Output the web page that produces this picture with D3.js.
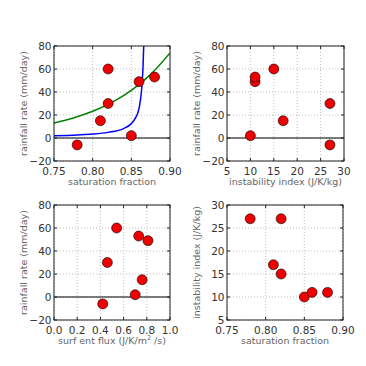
<!DOCTYPE html>
<html><head><meta charset="utf-8">
<script src="https://cdn.jsdelivr.net/npm/d3@7"></script>
<style>body{margin:0;background:#fff}svg{display:block}</style>
</head><body>
<script>
// Data
const saturation  = [0.78, 0.81, 0.82, 0.82, 0.85, 0.86, 0.88];
const rainfall    = [-6, 15, 60, 30, 2, 49, 53];
const instability = [27, 17, 15, 27, 10, 11, 11];
const surfFlux    = [0.42, 0.76, 0.54, 0.46, 0.70, 0.81, 0.73];

// Curves (panel 1)
const greenSat  = [0.75, 0.775, 0.80, 0.825, 0.85, 0.875, 0.90];
const greenRain = [13.0, 17.4, 23.2, 31.0, 41.4, 55.3, 74.0];
const blueSat   = [0.75, 0.78, 0.80, 0.82, 0.84, 0.85, 0.855, 0.86, 0.863, 0.865, 0.866, 0.8665];
const blueRain  = [2.0, 2.7, 3.4, 4.9, 8.2, 12.5, 17.0, 26.0, 40.0, 60.0, 79.0, 84.0];

const satTicks   = [0.75, 0.80, 0.85, 0.90];
const rainTicks  = [-20, 0, 20, 40, 60, 80];
const instTicks  = [5, 10, 15, 20, 25, 30];
const fluxTicks  = [0.0, 0.2, 0.4, 0.6, 0.8, 1.0];

const W = 366, H = 366;
const svg = d3.select("body").append("svg").attr("width", W).attr("height", H);
const fmtMinus = s => s.replace("-", "\u2212");

function panel(o) {
  const g = svg.append("g");
  const x = d3.scaleLinear().domain(o.xd).range([o.x0, o.x1]);
  const y = d3.scaleLinear().domain(o.yd).range([o.y1, o.y0]);
  const clipId = "clip" + Math.round(o.x0) + "_" + Math.round(o.y0);
  svg.append("clipPath").attr("id", clipId).append("rect")
    .attr("x", o.x0).attr("y", o.y0).attr("width", o.x1 - o.x0).attr("height", o.y1 - o.y0);

  // grid
  g.selectAll(".gx").data(o.xt).enter().append("line")
    .attr("x1", d => x(d)).attr("x2", d => x(d)).attr("y1", o.y0).attr("y2", o.y1)
    .attr("stroke", "#b0b0b0").attr("stroke-width", 0.8).attr("stroke-dasharray", "1,2");
  g.selectAll(".gy").data(o.yt).enter().append("line")
    .attr("y1", d => y(d)).attr("y2", d => y(d)).attr("x1", o.x0).attr("x2", o.x1)
    .attr("stroke", "#b0b0b0").attr("stroke-width", 0.8).attr("stroke-dasharray", "1,2");

  if (o.zero) {
    g.append("line").attr("x1", o.x0).attr("x2", o.x1).attr("y1", y(0)).attr("y2", y(0))
      .attr("stroke", "#000").attr("stroke-width", 1);
  }

  const cg = g.append("g").attr("clip-path", `url(#${clipId})`);
  (o.curves || []).forEach(c => {
    cg.append("path")
      .datum(c.xs.map((v, i) => [v, c.ys[i]]))
      .attr("fill", "none").attr("stroke", c.color).attr("stroke-width", 1.5)
      .attr("d", d3.line().x(d => x(d[0])).y(d => y(d[1])).curve(d3.curveMonotoneX));
  });

  // points
  g.selectAll(".pt").data(o.px.map((v, i) => [v, o.py[i]])).enter().append("circle")
    .attr("cx", d => x(d[0])).attr("cy", d => y(d[1])).attr("r", 5)
    .attr("fill", "#ee0000").attr("stroke", "#000").attr("stroke-width", 0.6);

  // frame
  g.append("rect").attr("x", o.x0).attr("y", o.y0).attr("width", o.x1 - o.x0).attr("height", o.y1 - o.y0)
    .attr("fill", "none").attr("stroke", "#222").attr("stroke-width", 1);

  // ticks (inward)
  const tl = 3;
  o.xt.forEach(t => {
    g.append("line").attr("x1", x(t)).attr("x2", x(t)).attr("y1", o.y1).attr("y2", o.y1 - tl).attr("stroke", "#222");
    g.append("line").attr("x1", x(t)).attr("x2", x(t)).attr("y1", o.y0).attr("y2", o.y0 + tl).attr("stroke", "#222");
  });
  o.yt.forEach(t => {
    g.append("line").attr("y1", y(t)).attr("y2", y(t)).attr("x1", o.x0).attr("x2", o.x0 + tl).attr("stroke", "#222");
    g.append("line").attr("y1", y(t)).attr("y2", y(t)).attr("x1", o.x1).attr("x2", o.x1 - tl).attr("stroke", "#222");
  });

  // tick labels
  g.selectAll(".xl").data(o.xt).enter().append("text")
    .attr("x", d => x(d)).attr("y", o.y1 + 13.5).attr("text-anchor", "middle")
    .attr("font-family", "DejaVu Sans").attr("font-size", 10.5).attr("fill", "#333")
    .text(d => fmtMinus(o.xf(d)));
  g.selectAll(".yl").data(o.yt).enter().append("text")
    .attr("x", o.x0 - 2.5).attr("y", d => y(d) + 3.8).attr("text-anchor", "end")
    .attr("font-family", "DejaVu Sans").attr("font-size", 10.5).attr("fill", "#333")
    .text(d => fmtMinus(o.yf(d)));

  // axis labels
  const xl = g.append("text").attr("x", (o.x0 + o.x1) / 2).attr("y", o.y1 + 24)
    .attr("text-anchor", "middle").attr("font-family", "DejaVu Sans").attr("font-size", 9.5).attr("fill", "#666");
  if (o.xlabelParts) {
    o.xlabelParts.forEach(p => {
      const ts = xl.append("tspan").text(p.t);
      if (p.sup) ts.attr("font-size", 6.5).attr("dy", -4);
      if (p.after) ts.attr("dy", 4);
    });
  } else xl.text(o.xlabel);
  g.append("text").attr("transform", `translate(${o.x0 - 27},${(o.y0 + o.y1) / 2}) rotate(-90)`)
    .attr("text-anchor", "middle").attr("font-family", "DejaVu Sans").attr("font-size", 9.5).attr("fill", "#666")
    .text(o.ylabel);
}

const f2 = d3.format(".2f"), f1 = d3.format(".1f"), f0 = d3.format("d");

panel({ x0: 54, x1: 170, y0: 46, y1: 161, xd: [0.75, 0.90], yd: [-20, 80],
  xt: satTicks, yt: rainTicks, xf: f2, yf: f0, zero: true,
  px: saturation, py: rainfall,
  curves: [{ xs: greenSat, ys: greenRain, color: "#008000" }, { xs: blueSat, ys: blueRain, color: "#0000ff" }],
  xlabel: "saturation fraction", ylabel: "rainfall rate (mm/day)" });

panel({ x0: 227, x1: 344, y0: 46, y1: 161, xd: [5, 30], yd: [-20, 80],
  xt: instTicks, yt: rainTicks, xf: f0, yf: f0, zero: true,
  px: instability, py: rainfall,
  xlabel: "instability index (J/K/kg)", ylabel: "rainfall rate (mm/day)" });

panel({ x0: 54, x1: 170, y0: 205, y1: 320, xd: [0, 1], yd: [-20, 80],
  xt: fluxTicks, yt: rainTicks, xf: f1, yf: f0, zero: true,
  px: surfFlux, py: rainfall,
  xlabelParts: [{ t: "surf ent flux (J/K/m" }, { t: "2", sup: true }, { t: " /s)", after: true }],
  ylabel: "rainfall rate (mm/day)" });

panel({ x0: 227, x1: 343, y0: 205, y1: 320, xd: [0.75, 0.90], yd: [5, 30],
  xt: satTicks, yt: instTicks, xf: f2, yf: f0, zero: false,
  px: saturation, py: instability,
  xlabel: "saturation fraction", ylabel: "instability index (J/K/kg)" });
</script>
</body></html>
